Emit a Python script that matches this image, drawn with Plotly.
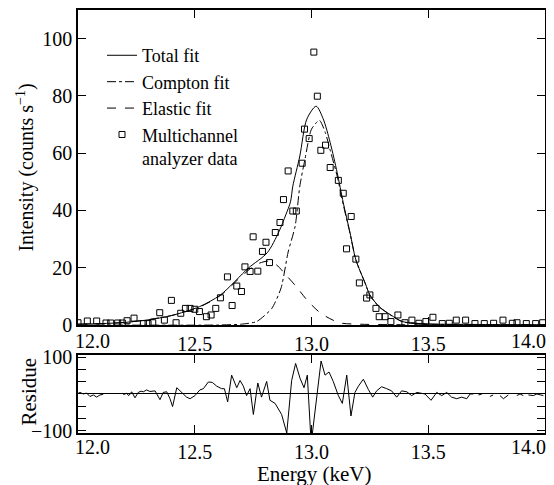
import plotly.graph_objects as go

# ---------------- data ----------------
data_E = [12.00, 12.04, 12.08, 12.12, 12.14, 12.17, 12.19, 12.21, 12.24, 12.28,
          12.30, 12.32, 12.35, 12.37, 12.40, 12.42, 12.44, 12.46, 12.48, 12.50,
          12.52, 12.55, 12.57, 12.59, 12.61, 12.64, 12.66, 12.68, 12.70, 12.715,
          12.737, 12.75, 12.77, 12.79, 12.805, 12.82, 12.845, 12.865, 12.88, 12.90,
          12.92, 12.935, 12.96, 12.97, 12.99, 13.01, 13.025, 13.04, 13.06, 13.08,
          13.115, 13.136, 13.15, 13.17, 13.19, 13.205, 13.236, 13.25, 13.276, 13.29,
          13.315, 13.34, 13.37, 13.40, 13.43, 13.46, 13.49, 13.52, 13.56, 13.59,
          13.62, 13.66, 13.70, 13.74, 13.78, 13.82, 13.86, 13.88, 13.92, 13.96, 13.99]
data_I = [0.8, 1.4, 1.4, 0.7, 0.7, 0.7, 0.7, 1.5, 2.4, 0.5,
          0.5, 0.8, 4.3, 1.7, 8.6, 0.8, 4.1, 5.8, 5.8, 5.5,
          4.7, 2.9, 3.5, 5.8, 9.5, 16.8, 6.8, 13.6, 11.7, 20.3,
          18.7, 30.8, 18.8, 25.7, 28.9, 21.8, 32.3, 35.8, 43.8, 53.8,
          39.8, 39.8, 56.5, 68.4, 65.1, 95.3, 79.9, 61.0, 62.8, 55.0,
          50.5, 46.0, 26.6, 37.9, 23.0, 14.7, 9.4, 10.5, 5.8, 2.9,
          2.9, 1.2, 3.5, 0.8, 1.7, 0.6, 1.2, 2.7, 0.5, 0.6,
          1.7, 1.7, 0.5, 0.5, 0.6, 1.7, 0.6, 0.8, 0.5, 0.5, 0.8]

total_E = [12.00, 12.10, 12.20, 12.30, 12.40, 12.52, 12.61, 12.73, 12.81, 12.86,
           12.89, 12.91, 12.92, 12.95, 12.98, 13.02, 13.05, 13.08, 13.11, 13.136,
           13.165, 13.19, 13.23, 13.25, 13.29, 13.34, 13.39, 13.50, 13.70, 14.00]
total_I = [0.3, 0.5, 0.9, 1.8, 3.3, 6.4, 10.5, 19.9, 25.2, 32.5,
           38.5, 43.0, 48.5, 59.0, 71.9, 76.4, 72.0, 63.7, 53.2, 42.7,
           32.2, 22.8, 14.6, 10.5, 6.4, 3.5, 1.2, 0.4, 0.2, 0.1]

compton_E = [12.00, 12.60, 12.70, 12.765, 12.83, 12.87, 12.90, 12.93, 12.95, 12.972,
             13.00, 13.034, 13.06, 13.08, 13.11, 13.136, 13.165, 13.19, 13.23, 13.25,
             13.29, 13.34, 13.39, 13.50, 13.70, 14.00]
compton_I = [0.0, 0.0, 0.3, 1.2, 5.8, 13.0, 25.5, 34.5, 48.5, 57.9,
             68.4, 71.5, 67.0, 61.0, 52.0, 42.0, 32.0, 22.7, 14.5, 10.4,
             6.3, 3.4, 1.1, 0.3, 0.1, 0.0]

elastic_E = [12.00, 12.20, 12.40, 12.52, 12.61, 12.70, 12.76, 12.815, 12.85, 12.89,
             12.935, 12.98, 13.04, 13.12, 13.20, 13.40, 14.00]
elastic_I = [0.3, 0.9, 3.3, 6.3, 10.3, 17.0, 21.0, 22.3, 21.0, 17.5,
             13.4, 8.8, 4.1, 0.8, 0.3, 0.1, 0.0]

resid_E = [12.00, 12.009, 12.023, 12.037, 12.051, 12.066, 12.080, 12.094, 12.108, 12.15,
           12.194, 12.208, 12.218, 12.230, 12.244, 12.258, 12.270, 12.280, 12.294, 12.308,
           12.330, 12.351, 12.365, 12.380, 12.394, 12.405, 12.423, 12.444, 12.465, 12.480,
           12.501, 12.522, 12.537, 12.558, 12.575, 12.594, 12.615, 12.627, 12.641, 12.658,
           12.680, 12.694, 12.708, 12.722, 12.737, 12.751, 12.770, 12.786, 12.808, 12.822,
           12.844, 12.872, 12.894, 12.915, 12.932, 12.951, 12.968, 12.982, 12.996, 13.004,
           13.041, 13.058, 13.075, 13.093, 13.115, 13.132, 13.151, 13.169, 13.186, 13.201,
           13.222, 13.243, 13.262, 13.279, 13.300, 13.322, 13.343, 13.365, 13.386, 13.408,
           13.429, 13.451, 13.465, 13.486, 13.512, 13.536, 13.558, 13.579, 13.600, 13.622,
           13.643, 13.665, 13.679, 13.693, 13.704, 13.715, 13.730, 13.747, 13.764, 13.778,
           13.792, 13.807, 13.822, 13.843, 13.860, 13.879, 13.893, 13.907, 13.918, 13.929,
           13.950, 13.965, 13.993]
resid_R = [1.7, 4.3, 0.0, 2.6, -6.8, -2.6, -8.5, -2.6, -0.9, None,
           -1.7, 1.7, -4.3, 6.0, -10.3, 4.3, 7.7, 6.0, 11.1, 6.8,
           8.5, -15.4, 4.3, 6.0, -12.8, -34.2, 17.1, 4.3, -8.5, -12.8,
           -4.3, 11.1, 14.5, 32.5, 31.6, 21.4, 14.5, 14.5, -21.4, 51.3,
           17.1, 36.8, 21.4, -4.3, 14.5, -55.6, 29.9, -8.5, 34.2, -17.1,
           -25.6, -55.6, -106.0, 36.8, 82.9, 42.7, 17.1, 51.3, -106.0, -106.0,
           89.7, 51.3, 59.8, 34.2, -4.3, -25.6, 51.3, -59.8, 4.3, 21.4,
           40.2, 12.8, -8.5, 8.5, 19.7, 14.5, 8.5, -8.5, 8.5, 6.0,
           -4.3, 4.3, 2.6, 0.0, -17.1, 4.3, -4.3, 4.3, -8.5, -12.8,
           -8.5, -12.8, 0.0, 0.0, None, -2.6, 0.0, None, -6.8, -2.6,
           None, -4.3, -12.8, -2.6, None, -4.3, 0.0, -4.3, None, -2.6,
           -4.3, 0.0, -4.3]

x_ticks = [12.0, 12.5, 13.0, 13.5, 14.0]
x_ticktext = ["", "12.5", "13.0", "13.5", ""]
x_end_labels = [(12.0, "12.0"), (14.0, "14.0")]
y_ticks = [0, 20, 40, 60, 80, 100]
r_ticks = [-100, -66.7, -33.3, 33.3, 66.7, 100]
r_ticktext = ["\u2212100", "", "", "", "", "100"]

FONT = "Liberation Serif, Times New Roman, serif"
INK = "black"

fig = go.Figure()
fig.add_trace(go.Scatter(x=total_E, y=total_I, mode="lines", name="Total fit",
                         line=dict(color=INK, width=1, shape="spline", smoothing=0.8),
                         xaxis="x", yaxis="y"))
fig.add_trace(go.Scatter(x=compton_E, y=compton_I, mode="lines", name="Compton fit",
                         line=dict(color=INK, width=1, dash="dashdot", shape="spline", smoothing=0.6),
                         xaxis="x", yaxis="y"))
fig.add_trace(go.Scatter(x=elastic_E, y=elastic_I, mode="lines", name="Elastic fit",
                         line=dict(color=INK, width=1, dash="dash", shape="spline", smoothing=0.8),
                         xaxis="x", yaxis="y"))
fig.add_trace(go.Scatter(x=data_E, y=data_I, mode="markers",
                         name="Multichannel<br>analyzer data",
                         marker=dict(symbol="square-open", size=6, color=INK, line=dict(width=1, color=INK)),
                         xaxis="x", yaxis="y"))
fig.add_trace(go.Scatter(x=resid_E, y=resid_R, mode="lines", showlegend=False,
                         line=dict(color=INK, width=1), connectgaps=False,
                         xaxis="x2", yaxis="y2"))

axis_common = dict(showline=True, linecolor=INK, linewidth=1.5, mirror="ticks",
                   ticks="inside", tickcolor=INK, tickwidth=1, ticklen=8,
                   showgrid=False, automargin=False,
                   tickfont=dict(family=FONT, size=20, color=INK))

annotations = []
for yref, shift in (("y domain", -16), ("y2 domain", -14)):
    xr = "x" if yref.startswith("y ") else "x2"
    for val, txt in x_end_labels:
        annotations.append(dict(x=val, xref=xr, y=0, yref=yref, text=txt, showarrow=False,
                                xanchor="left" if val == 12.0 else "right",
                                xshift=-5 if val == 12.0 else 3,
                                yanchor="middle", yshift=shift,
                                font=dict(family=FONT, size=20, color=INK)))
annotations += [
    dict(text="Intensity (counts s<sup>\u22121</sup>)", x=-0.113, y=0.628, xref="paper", yref="paper",
         textangle=-90, showarrow=False, xanchor="center", yanchor="middle",
         font=dict(family=FONT, size=20, color=INK)),
    dict(text="Residue", x=-0.105, y=0.098, xref="paper", yref="paper",
         textangle=-90, showarrow=False, xanchor="center", yanchor="middle",
         font=dict(family=FONT, size=21, color=INK)),
    dict(text="Energy (keV)", x=0.507, y=-0.096, xref="paper", yref="paper",
         showarrow=False, xanchor="center", yanchor="middle",
         font=dict(family=FONT, size=21, color=INK)),
]

fig.update_layout(
    width=546, height=477,
    margin=dict(l=70, r=9, t=2, b=52),
    paper_bgcolor="white", plot_bgcolor="white",
    font=dict(family=FONT, size=19, color=INK),
    showlegend=True,
    legend=dict(x=0.0514, y=0.936, xanchor="left", yanchor="top",
                bgcolor="rgba(0,0,0,0)", borderwidth=0, valign="top",
                tracegroupgap=0, font=dict(family=FONT, size=18, color=INK)),
    xaxis=dict(domain=[0, 1], range=[12, 14], anchor="y", zeroline=False,
               tickvals=x_ticks, ticktext=x_ticktext, **axis_common),
    yaxis=dict(domain=[0.2553, 1], range=[0, 110], anchor="x", zeroline=False,
               tickvals=y_ticks, **axis_common),
    xaxis2=dict(domain=[0, 1], range=[12, 14], anchor="y2", zeroline=False,
                tickvals=x_ticks, ticktext=x_ticktext, **axis_common),
    yaxis2=dict(domain=[0, 0.1844], range=[-106, 106], anchor="x2",
                tickvals=r_ticks, ticktext=r_ticktext,
                zeroline=True, zerolinecolor=INK, zerolinewidth=1,
                **axis_common),
    annotations=annotations,
)

fig.write_html("out.html")
